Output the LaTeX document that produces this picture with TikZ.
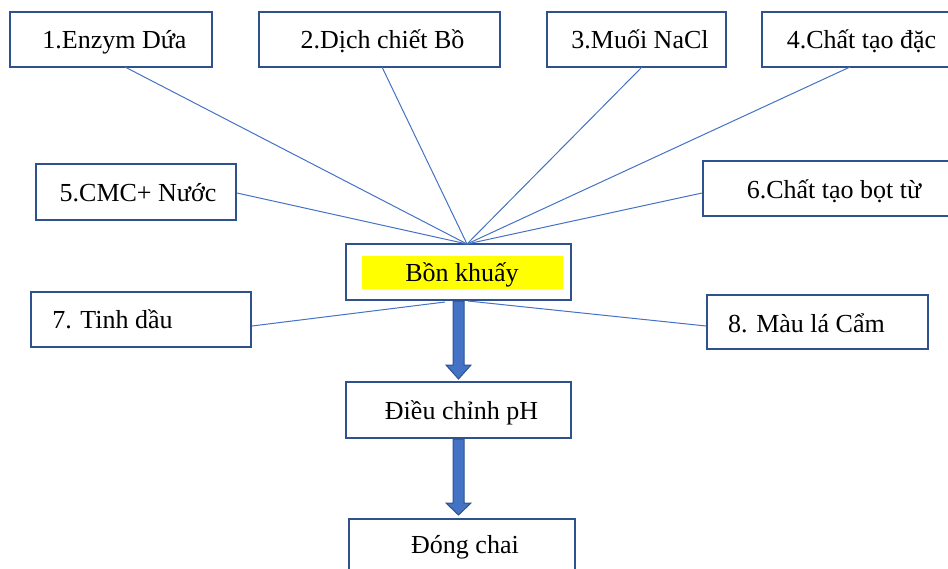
\documentclass[tikz,border=0pt]{standalone}
\usepackage{fontspec}
\setmainfont{Liberation Serif}
\usetikzlibrary{calc}
\definecolor{boxborder}{HTML}{2F528F}
\definecolor{linkblue}{HTML}{4472C4}
\definecolor{hiyellow}{HTML}{FFFF00}
\tikzset{
  box/.style={draw=boxborder, line width=2.3pt, fill=white, inner sep=0pt, outer sep=0pt},
  txt/.style={font=\fontsize{26}{30}\selectfont, inner sep=0pt, anchor=base, text=black},
  link/.style={draw=linkblue, line width=1pt},
  fatarrow/.style={fill=linkblue, draw=boxborder, line width=1pt, line join=miter}
}
\begin{document}
\begin{tikzpicture}[x=1pt,y=1pt]
\useasboundingbox (0,0) rectangle (948,-568);
\clip (0,0) rectangle (948,-568);
% boxes
\node[box, minimum width=202, minimum height=55] (b1) at (111,-39.5) {};
\node[box, minimum width=241, minimum height=55] (b2) at (379.5,-39.5) {};
\node[box, minimum width=179, minimum height=55] (b3) at (636.5,-39.5) {};
\node[box, minimum width=196, minimum height=55] (b4) at (860,-39.5) {};
\node[box, minimum width=200, minimum height=56] (b5) at (136,-192) {};
\node[box, minimum width=255, minimum height=55] (b6) at (830.5,-188.5) {};
\node[box, minimum width=220, minimum height=55] (b7) at (141,-319.5) {};
\node[box, minimum width=221, minimum height=54] (b8) at (817.5,-322) {};
\node[box, minimum width=225, minimum height=56] (bk) at (458.5,-272) {};
\node[fill=hiyellow, inner sep=0pt, minimum width=201, minimum height=33] (hl) at (462.5,-272.5) {};
\node[box, minimum width=225, minimum height=56] (dc) at (458.5,-410) {};
\node[box, minimum width=226, minimum height=61] (dg) at (462,-549.5) {};
% hub
\coordinate (hub) at ($(bk.north)+(8.5,0)$);
\coordinate (a1) at (bk.south |- dc.north);
\coordinate (a2) at (dc.south |- dg.north);
% connectors
\draw[link] ($(b1.south)+(14,0)$) -- (hub);
\draw[link] ($(b2.south)+(2.5,0)$) -- (hub);
\draw[link] ($(b3.south)+(5.5,0)$) -- (hub);
\draw[link] ($(b4.south)+(-10,0)$) -- (hub);
\draw[link] ($(b5.east)+(1,-1)$) -- (hub);
\draw[link] ($(b6.west)+(-1,-4.5)$) -- (hub);
\draw[link] ($(bk.south)+(-13.5,-2)$) -- ($(b7.east)+(1,-6.5)$);
\draw[link] ($(bk.south)+(9.5,-1)$) -- ($(b8.west)+(-1,-4)$);
% fat arrows
\fill[fatarrow] ($(bk.south)+(-5.5,-1.2)$) -- ($(a1)+(-5.5,17)$) -- ($(a1)+(-12.5,17)$)
  -- ($(a1)+(0,3)$) -- ($(a1)+(12.5,17)$) -- ($(a1)+(5.5,17)$)
  -- ($(bk.south)+(5.5,-1.2)$) -- cycle;
\fill[fatarrow] ($(dc.south)+(-5.5,-1.2)$) -- ($(a2)+(-5.5,16)$) -- ($(a2)+(-12.5,16)$)
  -- ($(a2)+(0,4)$) -- ($(a2)+(12.5,16)$) -- ($(a2)+(5.5,16)$)
  -- ($(dc.south)+(5.5,-1.2)$) -- cycle;
% texts
\node[txt] (t1) at (114.5,-48) {1.Enzym Dứa};
\node[txt] (t2) at (382.5,-48) {2.Dịch chiết Bồ};
\node[txt] (t3) at (640,-48) {3.Muối NaCl};
\node[txt] (t4) at (861.5,-48) {4.Chất tạo đặc};
\node[txt] (t5) at (138,-201) {5.CMC+ Nước};
\node[txt] (t6) at (834,-198) {6.Chất tạo bọt từ};
\node[txt] (t7) at (112.5,-328) {7. Tinh dầu};
\node[txt] (t8) at (806.5,-332) {8. Màu lá Cẩm};
\node[txt] (tk) at (462,-281) {Bồn khuấy};
\node[txt] (tc) at (461.5,-419) {Điều chỉnh pH};
\node[txt] (tg) at (465,-553) {Đóng chai};
\end{tikzpicture}
\end{document}
